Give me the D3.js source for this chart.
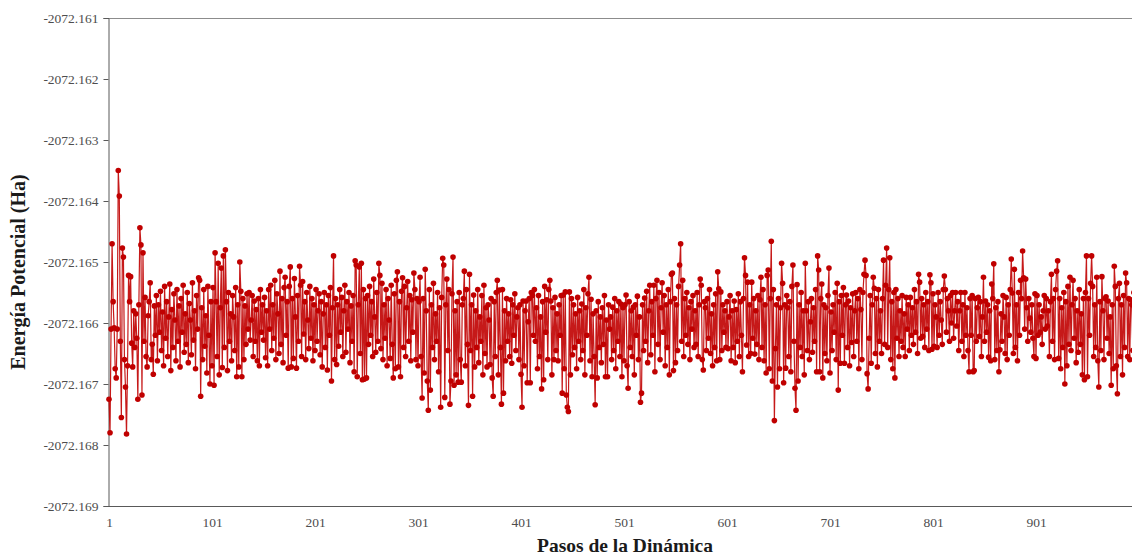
<!DOCTYPE html>
<html lang='es'>
<head>
  <meta charset='UTF-8'>
  <title>Energía Potencial</title>
  <script src='https://d3js.org/d3.v7.min.js'></script>
  <style>
    body { margin: 0; background: #fff; }
    svg { display: block; }
  </style>
</head>
<body>
  <svg width='1132' height='557'></svg>

  <script>
    // energy = baseEnergy + offset / 1000 (offsets in mHa)
    var baseEnergy = -2072.166;
    var energyOffsetMilliHa = [
      -1.25,-1.80,-0.10,1.30,0.35,-0.08,-0.75,-0.90,-0.10,2.50,2.08,-0.30,-1.55,1.23,1.08,-0.60,-1.05,-1.82,-0.70,0.78,0.35,0.76,-0.33,-0.72,0.20,
      -0.40,0.15,-0.25,-1.25,0.30,1.56,1.28,-1.18,1.15,-0.30,0.42,-0.55,-0.72,0.12,0.35,0.66,-0.60,-0.35,-0.84,0.28,-0.20,0.45,-0.62,0.30,-0.15,
      0.52,-0.45,0.18,-0.70,0.60,-0.25,0.35,-0.55,0.10,0.64,-0.78,0.22,-0.40,0.48,0.05,-0.62,0.55,-0.30,0.28,-0.72,0.40,-0.15,0.62,-0.48,0.15,
      -0.35,0.50,-0.65,0.32,0.05,-0.52,0.66,-0.28,0.20,-0.75,0.45,-0.10,0.74,0.70,-1.20,0.25,-0.60,0.55,-0.38,0.12,-0.82,0.60,-0.20,-1.00,0.35,
      -0.70,0.58,-1.02,1.15,0.35,-0.55,0.98,-0.85,0.25,0.90,-0.73,1.10,-0.40,1.20,0.35,-0.78,0.50,-0.30,0.15,-0.62,0.45,0.10,-0.45,0.58,-0.88,
      0.30,-0.72,1.00,0.52,-0.88,0.40,-0.60,0.28,-0.35,0.48,-0.10,0.50,-0.28,0.05,0.45,-0.55,0.36,-0.30,0.22,-0.62,0.40,-0.70,0.55,-0.15,0.30,
      -0.28,0.42,-0.57,0.20,-0.70,0.55,-0.10,0.62,-0.45,0.30,-0.25,0.70,-0.60,0.48,0.15,-0.50,0.85,-0.35,0.40,-0.65,0.58,0.75,-0.20,0.35,-0.74,
      0.60,0.92,-0.72,0.40,-0.58,0.73,0.10,-0.74,0.45,-0.30,0.93,0.62,-0.55,0.68,-0.18,0.35,-0.60,0.50,0.05,-0.42,0.60,-0.25,0.40,-0.62,0.30,
      -0.45,0.55,-0.30,0.20,0.48,-0.52,0.35,-0.72,0.15,0.50,-0.40,0.30,-0.77,0.45,-0.20,0.58,-0.95,0.25,1.10,-0.60,0.40,-0.68,0.30,-0.38,0.55,
      -0.15,0.42,-0.55,0.20,0.62,-0.48,0.35,-0.10,0.50,-0.65,0.28,-0.30,0.45,-0.80,1.02,0.95,-0.88,0.30,0.92,-0.50,0.98,-0.93,0.55,-0.92,0.40,
      -0.90,0.45,-0.35,0.60,-0.20,0.35,-0.55,0.72,0.10,-0.48,0.50,-0.30,0.98,0.78,-0.42,0.65,-0.60,0.30,-0.25,0.55,-0.70,0.40,0.05,-0.58,0.62,
      -0.35,-0.90,0.48,-0.75,0.70,0.84,-0.72,0.35,-0.88,0.52,0.74,-0.40,0.60,-0.55,0.25,0.68,-0.30,0.45,-0.62,0.38,-0.15,0.82,0.55,-0.60,0.40,
      -0.70,0.35,0.75,-0.55,-1.23,0.40,-0.82,0.88,0.20,-0.95,-1.43,0.55,-1.10,0.30,-0.40,0.65,-0.60,0.15,-0.30,0.50,-0.80,0.25,-1.38,0.42,1.06,
      0.95,-1.22,0.30,0.72,-0.45,0.55,-1.33,-0.95,0.48,1.08,-1.02,0.20,-0.85,0.35,-0.97,0.50,-0.60,-0.97,0.30,0.40,0.85,-0.70,0.55,-0.35,-1.35,
      0.80,-0.45,0.30,-1.20,0.46,-0.72,0.20,-0.40,0.55,-0.65,0.10,-0.30,0.45,-0.85,0.62,-0.50,0.25,-0.72,0.30,0.05,-0.68,0.40,-0.90,-1.20,0.35,
      -0.55,0.50,0.70,-0.85,0.54,-0.40,-1.33,0.55,-1.15,0.20,-0.62,0.40,-0.30,0.15,-0.55,0.38,-0.66,0.30,-0.20,0.48,-0.45,0.10,0.25,-0.60,0.30,
      -0.84,-1.38,0.36,-0.70,0.20,0.36,-0.98,0.02,0.40,-0.98,0.50,0.45,-0.20,0.55,-0.30,0.25,-0.75,0.45,-0.55,0.10,-1.08,0.35,-0.93,0.60,-0.15,
      0.38,-0.60,0.55,0.70,0.36,-0.85,0.25,-0.60,0.42,-0.45,0.15,-0.62,0.30,-0.20,0.45,-1.15,0.46,-0.75,0.51,-1.18,-1.38,-1.45,0.51,-0.85,0.40,
      -0.52,0.30,-0.40,0.15,-0.75,0.42,-0.30,0.20,-0.60,0.31,-0.45,0.55,-0.85,0.25,-0.20,0.48,0.75,-0.62,0.39,-0.88,0.15,-0.55,-1.34,0.20,-0.90,
      0.35,-0.40,0.10,-0.65,0.25,-0.35,0.45,-0.88,0.05,-0.88,0.30,-0.10,0.10,-0.60,0.26,-0.45,0.40,-0.75,0.20,-0.30,0.35,-0.55,0.31,-0.88,0.25,
      -0.62,0.30,0.46,-0.70,-1.07,0.35,-0.40,0.20,-0.55,0.26,-0.85,0.30,-0.20,0.44,-0.60,0.10,-1.30,-1.15,0.30,-0.45,0.41,-0.30,0.52,-0.65,0.20,
      0.62,-0.52,0.35,-0.20,0.62,-0.80,0.40,0.70,-0.35,0.50,-0.60,0.25,0.66,-0.15,0.45,-0.70,0.30,-0.40,0.55,-0.85,0.35,0.80,0.82,-0.78,0.40,
      -0.65,0.30,-0.45,0.60,0.95,1.30,-0.30,0.70,-0.55,0.40,-0.20,0.50,-0.35,0.25,-0.60,0.35,-0.10,0.45,-0.40,0.20,-0.35,0.50,-0.55,0.30,0.72,
      0.62,-0.60,-0.77,0.35,0.25,-0.45,0.40,-0.25,0.55,-0.50,0.15,-0.70,0.30,-0.40,0.48,-0.62,0.84,0.56,-0.60,0.51,-0.45,0.30,-0.15,0.20,-0.40,
      0.35,-0.42,0.10,0.45,-0.62,0.20,-0.40,0.36,-0.65,0.22,-0.30,0.48,-0.55,0.35,-0.20,-0.80,0.40,1.07,0.78,-0.36,0.67,-0.55,0.30,-0.50,0.67,
      -0.25,0.40,-0.51,0.20,-0.35,0.45,-0.60,0.38,0.75,-0.40,0.55,-0.62,0.30,-0.82,0.78,0.87,-0.75,0.40,1.34,-0.95,0.55,-1.60,-0.42,0.30,-1.05,
      0.40,-0.75,0.25,0.98,0.65,-0.98,0.30,-0.74,0.45,0.25,-0.55,0.35,-0.80,0.60,0.95,-0.30,-1.07,-1.43,0.63,-0.95,0.30,-0.40,0.50,-0.55,0.20,
      -0.85,0.98,0.20,-0.45,0.35,-0.60,0.02,0.40,-0.48,0.25,-0.30,0.55,-0.80,1.10,0.87,-0.80,0.40,0.64,-0.90,0.30,-0.50,0.25,-0.62,0.45,0.90,
      -0.82,0.18,-0.45,0.30,-0.15,0.50,-0.60,0.65,-1.10,0.35,-0.66,0.45,-0.20,0.58,-0.66,0.30,0.46,-0.40,0.36,-0.70,0.25,-0.32,0.48,-0.55,0.20,
      0.50,-0.30,0.40,-0.75,0.55,0.22,-0.60,0.50,0.80,1.03,0.78,-0.83,-1.08,-0.25,0.45,-0.66,0.30,0.75,0.57,-0.50,0.40,-0.72,0.55,-0.30,0.20,
      -0.50,0.40,1.03,-0.35,0.62,1.23,-0.40,0.55,1.07,-0.60,0.35,-0.75,0.50,-0.90,0.55,-0.25,0.40,-0.55,0.20,-0.30,0.45,-0.40,0.15,-0.55,0.42,
      -0.10,0.30,-0.45,0.42,-0.20,0.25,-0.35,0.55,-0.15,0.35,-0.50,0.80,0.67,-0.25,0.40,-0.22,0.30,-0.40,0.50,-0.10,0.35,-0.45,0.79,0.66,-0.43,
      0.48,-0.38,0.30,0.10,-0.40,0.50,-0.20,0.35,0.05,-0.35,0.55,0.77,0.55,-0.15,0.40,0.20,-0.30,0.45,0.00,0.50,-0.25,0.20,0.50,-0.05,0.35,
      -0.45,0.20,0.50,-0.30,0.30,-0.55,0.50,-0.20,0.25,-0.45,-0.80,0.40,-0.20,0.45,-0.80,-0.78,0.40,-0.30,0.25,0.42,-0.22,0.35,-0.55,0.10,0.75,
      -0.30,0.36,-0.15,0.30,-0.56,0.20,-0.62,0.64,0.40,0.97,-0.60,0.25,-0.45,0.35,-0.80,-0.44,0.15,-0.30,0.45,0.10,-0.50,0.42,-0.60,0.30,-0.20,
      0.55,1.05,0.49,-0.50,0.88,-0.40,0.30,-0.62,0.50,-0.20,0.70,0.40,1.18,0.74,-0.10,0.72,0.25,-0.30,0.40,0.08,-0.15,0.30,-0.25,-0.55,0.48,
      -0.58,0.45,-0.20,0.30,-0.15,0.10,-0.35,0.20,0.45,-0.10,0.40,-0.05,0.20,-0.55,0.35,0.80,-0.30,0.40,-0.60,0.55,0.85,1.02,-0.58,0.40,-0.75,
      0.25,-0.40,0.50,-1.00,0.35,-0.70,0.60,-0.35,0.75,-0.45,0.30,0.70,-0.25,0.40,-0.65,0.20,-0.48,0.55,-0.35,0.15,-0.85,0.40,-0.93,0.50,1.10,
      -0.88,0.40,-0.20,0.65,1.10,0.60,-0.55,0.30,-0.40,0.75,-0.62,-1.05,0.35,-0.45,0.76,0.20,-0.60,0.40,0.43,-0.25,0.36,-0.50,0.10,-1.02,0.30,
      -0.75,0.93,0.60,-0.70,-1.16,0.40,0.65,-0.55,0.30,-0.85,0.45,-0.40,0.82,0.66,-0.55,0.40,-0.60,0.38,0.30,-0.45,0.50,-0.30,0.35,-0.60,0.20
    ];
    var yTicks = [-2072.169, -2072.168, -2072.167, -2072.166, -2072.165, -2072.164, -2072.163, -2072.162, -2072.161];
    var xTicks = [1, 101, 201, 301, 401, 501, 601, 701, 801, 901];

    var data = energyOffsetMilliHa.map((v, i) => ({step: i + 1, energy: baseEnergy + v / 1000}));

    var svg = d3.select('svg'),
      plotLeft = 108, plotTop = 18, plotBottom = 506;

    var x = d3.scaleLinear().domain([1, 1000]).range([109, 109 + 999 * 1.03]);
    var y = d3.scaleLinear().domain([-2072.169, -2072.161]).range([plotBottom, plotTop]);

    var font = "'Liberation Serif', 'Times New Roman', serif";

    // plot area top border
    svg.append('line')
      .attr('x1', plotLeft).attr('x2', 1132)
      .attr('y1', plotTop + 0.5).attr('y2', plotTop + 0.5)
      .attr('stroke', '#8c8c8c').attr('stroke-width', 1);

    var yAxis = svg.append('g')
      .attr('transform', 'translate(' + (plotLeft + 0.5) + ',0)')
      .call(d3.axisLeft(y).tickValues(yTicks).tickFormat(d => d.toFixed(3)).tickSize(5).tickPadding(5));
    yAxis.select('.domain').attr('stroke', '#595959');
    yAxis.selectAll('.tick line').attr('stroke', '#595959');
    yAxis.selectAll('text').attr('font-family', font).attr('font-size', 13.5).attr('fill', '#4d4d4d');

    var xAxis = svg.append('g')
      .attr('transform', 'translate(0,' + (plotBottom + 0.5) + ')')
      .call(d3.axisBottom(x).tickValues(xTicks).tickFormat(d3.format('d')).tickSize(0).tickPadding(11));
    xAxis.select('.domain').attr('stroke', '#595959').attr('d', 'M' + plotLeft + ',0H1132');
    xAxis.selectAll('text').attr('font-family', font).attr('font-size', 13.5).attr('fill', '#4d4d4d');

    var line = d3.line()
      .x(d => x(d.step))
      .y(d => y(d.energy));

    svg.append('path')
      .datum(data)
      .attr('fill', 'none')
      .attr('stroke', '#c00000')
      .attr('stroke-width', 1.2)
      .attr('stroke-opacity', 0.9)
      .attr('d', line);

    svg.append('g').selectAll('circle').data(data)
     .enter().append('circle')
      .attr('cx', d => x(d.step))
      .attr('cy', d => y(d.energy))
      .attr('r', 2.8)
      .attr('fill', '#c00000');

    svg.append('text')
      .attr('transform', 'translate(25,272) rotate(-90)')
      .attr('text-anchor', 'middle')
      .attr('font-family', font)
      .attr('font-weight', 'bold')
      .attr('font-size', 20)
      .attr('fill', '#1a1a1a')
      .text('Energía Potencial (Ha)');

    svg.append('text')
      .attr('x', 625)
      .attr('y', 552)
      .attr('text-anchor', 'middle')
      .attr('font-family', font)
      .attr('font-weight', 'bold')
      .attr('font-size', 19.5)
      .attr('fill', '#1a1a1a')
      .text('Pasos de la Dinámica');
  </script>
</body>
</html>
